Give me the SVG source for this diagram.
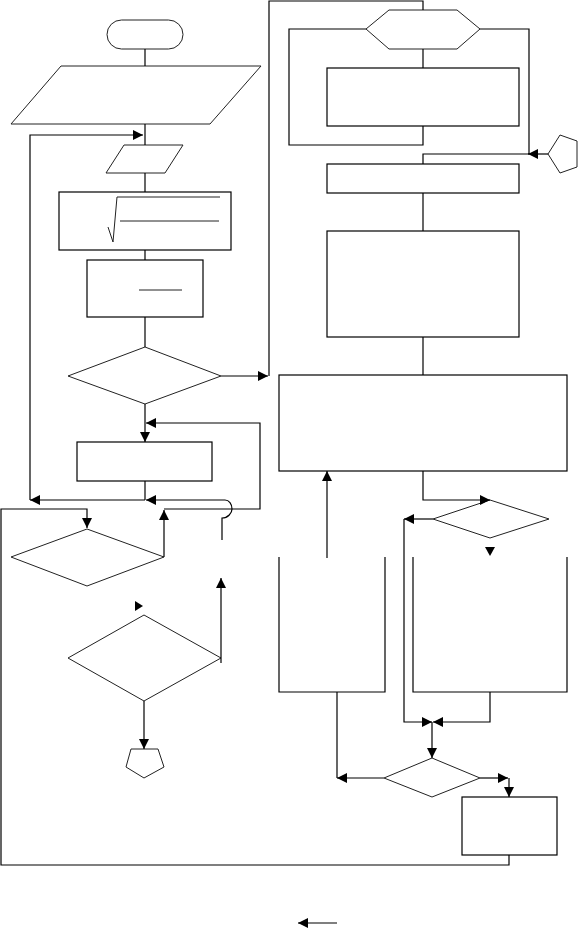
<svg xmlns="http://www.w3.org/2000/svg" width="578" height="929" viewBox="0 0 578 929">
<style>
.n{fill:none;stroke:#000;stroke-width:1.2}
.t{fill:none;stroke:#222;stroke-width:1}
.c{fill:none;stroke:#000;stroke-width:1.2}
.a{marker-end:url(#ah)}
.h{fill:#000;stroke:none}
</style>
<defs>
<marker id="ah" markerUnits="userSpaceOnUse" markerWidth="11" markerHeight="10" refX="10" refY="5" orient="auto">
<path d="M0,0 L10,5 L0,10 Z" fill="#000"/>
</marker>
</defs>
<rect width="578" height="929" fill="#fff"/>
<g id="start"><rect class="t" x="107" y="20" width="76" height="29" rx="14.5"/></g>
<g id="io1"><polygon class="t" points="61,66 261,66 210,124 11,124"/></g>
<g id="io2"><polygon class="t" points="124,145 183,145 165,173 106,173"/></g>
<g id="proc1"><rect class="n" x="59" y="192" width="172" height="58"/>
<path class="t" d="M108,227 L113,242 L117,197 L220,197"/>
<line class="t" x1="120" y1="221" x2="219" y2="221"/></g>
<g id="proc2"><rect class="n" x="87" y="260" width="116" height="57"/>
<line class="t" x1="139" y1="290" x2="182" y2="290"/></g>
<g id="dec1"><polygon class="t" points="145,347 221,376 145,404 68,376"/></g>
<g id="proc3"><rect class="n" x="77" y="442" width="135" height="39"/></g>
<g id="dec2"><polygon class="t" points="87,529 164,557 87,586 11,557"/></g>
<g id="dec3"><polygon class="t" points="144,615 221,658 144,701 68,658"/></g>
<g id="pent1"><polygon class="t" points="131,749 158,749 164,767 144,778 126,767"/></g>
<g id="hex"><polygon class="t" points="389,10 457,10 480,29 457,49 389,49 366,29"/></g>
<g id="boxA"><rect class="n" x="327" y="68" width="192" height="58"/></g>
<g id="pent2"><polygon class="t" points="548,154 560,135 577,141 577,167 560,173"/></g>
<g id="boxB"><rect class="n" x="327" y="164" width="192" height="29"/></g>
<g id="boxC"><rect class="n" x="327" y="231" width="192" height="106"/></g>
<g id="boxD"><rect class="n" x="279" y="375" width="288" height="96"/></g>
<g id="dec4"><polygon class="t" points="490,500 549,519 490,538 433,519"/></g>
<g id="boxE"><path class="n" d="M279,557 L279,692 L385,692 L385,557"/></g>
<g id="boxF"><path class="n" d="M413,557 L413,692 L567,692 L567,557"/></g>
<g id="dec5"><polygon class="t" points="432,758 480,778 432,797 384,778"/></g>
<g id="boxG"><rect class="n" x="462" y="797" width="95" height="58"/></g>
<g id="connectors">
<path class="c" d="M145,49 L145,66"/>
<path class="c" d="M145,124 L145,145"/>
<path class="c a" d="M145,500 L30,500"/>
<path class="c a" d="M30,500 L30,135 L143,135"/>
<path class="c" d="M145,173 L145,192"/>
<path class="c" d="M145,250 L145,260"/>
<path class="c" d="M145,317 L145,347"/>
<path class="c a" d="M221,376 L268,376"/>
<path class="c" d="M269,376 L269,1 L423,1 L423,10"/>
<path class="c a" d="M145,404 L145,442"/>
<path class="c" d="M145,481 L145,500"/>
<path class="c a" d="M222,540 L222,518 C228,518 232,513 232,509 C232,504 229,500 225,500 L146,500"/>
<path class="c a" d="M164,557 L164,510"/>
<path class="c a" d="M164,509 L260,509 L260,423 L146,423"/>
<path class="c a" d="M509,855 L509,865 L1,865 L1,509 L87,509 L87,528"/>
<path class="c a" d="M221,663 L221,578"/>
<polygon class="h" points="135,601 143,606 135,611"/>
<path class="c a" d="M144,701 L144,749"/>
<path class="c" d="M366,29 L289,29 L289,145 L423,145 L423,126"/>
<path class="c" d="M423,49 L423,68"/>
<path class="c" d="M480,29 L529,29 L529,154"/>
<path class="c a" d="M548,154 L528,154"/>
<path class="c" d="M529,154 L423,154 L423,164"/>
<path class="c" d="M423,193 L423,231"/>
<path class="c" d="M423,337 L423,375"/>
<path class="c a" d="M423,471 L423,500 L490,500"/>
<path class="c a" d="M327,558 L327,471"/>
<path class="c a" d="M433,519 L404,519"/>
<path class="c a" d="M404,519 L404,722 L432,722"/>
<polygon class="h" points="485,547 495,547 490,556"/>
<path class="c a" d="M490,692 L490,722 L433,722"/>
<path class="c a" d="M432,722 L432,758"/>
<path class="c" d="M337,692 L337,778"/>
<path class="c a" d="M384,778 L337,778"/>
<path class="c a" d="M480,778 L508,778"/>
<path class="c a" d="M509,778 L509,797"/>
<path class="c a" d="M337,923 L298,923"/>
</g>
</svg>
